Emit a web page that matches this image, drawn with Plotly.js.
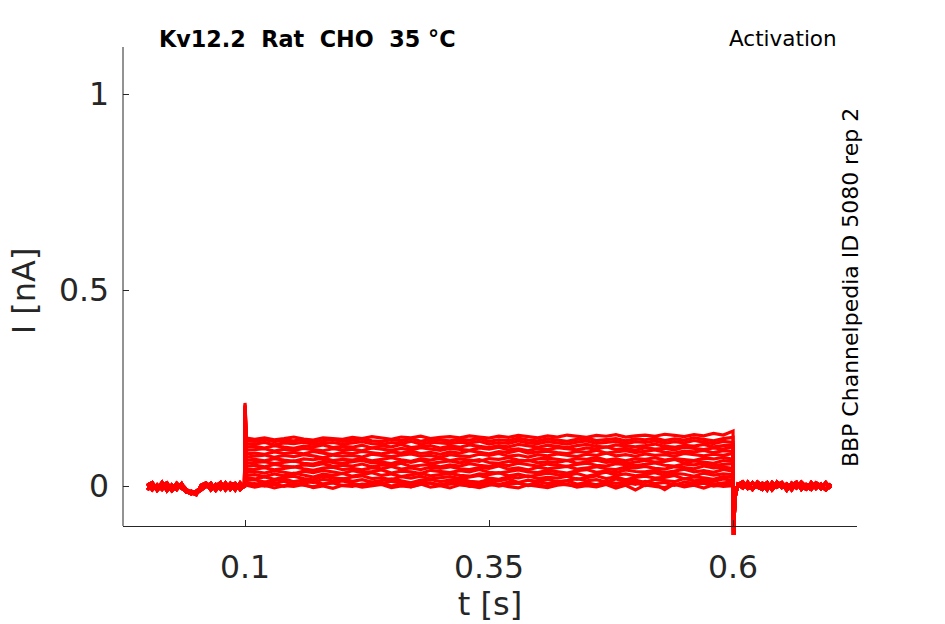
<!DOCTYPE html>
<html>
<head>
<meta charset="utf-8">
<script src="https://cdn.plot.ly/plotly-3.0.1.min.js"></script>
<style>
  html, body { margin: 0; padding: 0; background: #fff; }
  #myDiv { width: 945px; height: 624px; }
</style>
</head>
<body>
<div id="myDiv"></div>
<script>
  // time points [s]
  var tPre = [0, 0.005, 0.01, 0.015, 0.02, 0.025, 0.03, 0.035, 0.04, 0.045,
              0.05, 0.055, 0.06, 0.065, 0.07, 0.075, 0.08, 0.085, 0.09, 0.095, 0.0995];
  var tPulse = [0.1, 0.1015,
                0.11, 0.12, 0.13, 0.14, 0.15, 0.16, 0.17, 0.18, 0.19, 0.20,
                0.21, 0.22, 0.23, 0.24, 0.25, 0.26, 0.27, 0.28, 0.29, 0.30,
                0.31, 0.32, 0.33, 0.34, 0.35, 0.36, 0.37, 0.38, 0.39, 0.40,
                0.41, 0.42, 0.43, 0.44, 0.45, 0.46, 0.47, 0.48, 0.49, 0.50,
                0.51, 0.52, 0.53, 0.54, 0.55, 0.56, 0.57, 0.58, 0.59, 0.60];
  var tOff = [0.6005, 0.602, 0.605];
  var tPost = [0.61, 0.615, 0.62, 0.625, 0.63, 0.635, 0.64, 0.645, 0.65, 0.655,
               0.66, 0.665, 0.67, 0.675, 0.68, 0.685, 0.69, 0.695, 0.70];

  // currents [pA]
  var preA = [6, -10, 3, -9, 5, -11, 7, -6, -14, -20, -13, -5, 6, -10, 4, -8, 8, -9, 3, -6, 4];
  var preB = [-10, 5, -8, 9, -12, 3, -9, 6, -16, -13, -19, -10, -3, 7, -11, 3, -8, 7, -10, 8, -4];
  var preC = [3, 9, -11, 2, 8, -12, 0, 5, -9, -17, -22, 2, 8, -6, 0, 9, -10, 4, 7, -9, 2];
  var postA = [7, -6, 9, -3, -9, 6, -8, 10, -4, 5, -10, 7, -2, -8, 9, -6, 5, -9, 6];
  var postB = [-5, 10, -9, 4, 7, -10, 9, -3, 6, -11, 7, -5, 10, -2, -9, 6, -7, 9, -6];
  var postC = [11, -2, -8, 10, 0, 9, -10, 3, 9, -6, 2, 10, -9, 4, -3, 8, 0, -10, 3];
  var offVals = [-128, -30, 4];

  var sweep1 = [168, 2,
    -3, 2, -5, 1, -1, 4, -4, 0, -6, 2,
    3, -3, 1, 4, -4, 0, -2, 5, -3, 1,
    -5, 3, 0, -4, 2, 4, -2, -5, 3, 0,
    -4, 2, 5, -3, 1, -2, 4, -5, 2, -10,
    3, -1, -4, 4, -2, 2, -5, 3, -1, 1];
  var sweep2 = [172, 5,
    6, 0, 4, -1, 7, 2, -2, 5, 8, 1,
    -1, 5, 3, 7, 0, 6, -2, 4, 8, 2,
    4, 7, -1, 3, 6, 0, 5, 8, 1, 4,
    -2, 6, 3, 0, 7, 2, 5, -1, 4, 8,
    1, 5, -9, 6, 2, 4, 7, 0, 3, 6];
  var sweep3 = [176, 9,
    4, 10, 6, 12, 3, 8, 11, 5, 9, 13,
    7, 2, 10, 6, 12, 8, 4, 11, 7, 3,
    9, 13, 5, 8, 12, 4, 10, 7, 2, 11,
    6, 9, 13, 5, 8, 3, 11, 7, 10, 4,
    12, 6, 9, 2, 10, 7, 13, 5, 8, 11];
  var sweep4 = [179, 14,
    16, 10, 14, 18, 11, 15, 9, 17, 13, 19,
    12, 16, 10, 14, 18, 13, 8, 15, 17, 11,
    14, 19, 12, 10, 16, 13, 18, 9, 15, 12,
    17, 11, 14, 19, 13, 16, 10, 18, 12, 15,
    9, 17, 14, 11, 19, 13, 16, 12, 18, 14];
  var sweep5 = [182, 21,
    18, 23, 17, 22, 25, 19, 16, 24, 20, 18,
    23, 26, 19, 21, 16, 24, 20, 25, 18, 22,
    24, 19, 22, 27, 20, 17, 23, 21, 26, 19,
    22, 20, 25, 17, 21, 26, 19, 23, 16, 22,
    25, 20, 22, 27, 18, 23, 21, 17, 24, 22];
  var sweep6 = [185, 27,
    29, 24, 31, 26, 33, 28, 23, 30, 27, 32,
    25, 29, 34, 27, 31, 24, 28, 33, 26, 30,
    32, 27, 25, 31, 29, 34, 26, 30, 24, 28,
    33, 29, 27, 32, 25, 30, 35, 28, 31, 26,
    29, 34, 27, 32, 30, 25, 33, 28, 31, 29];
  var sweep7 = [187, 35,
    37, 33, 39, 35, 31, 38, 34, 40, 36, 32,
    39, 35, 37, 41, 33, 38, 36, 32, 40, 37,
    34, 39, 36, 42, 35, 33, 38, 41, 36, 34,
    40, 37, 33, 39, 42, 35, 38, 34, 41, 37,
    36, 40, 34, 38, 43, 36, 39, 35, 42, 38];
  var sweep8 = [189, 42,
    43, 47, 41, 45, 49, 44, 40, 46, 48, 42,
    45, 41, 47, 44, 50, 43, 46, 42, 48, 45,
    49, 44, 42, 47, 45, 51, 43, 46, 41, 48,
    44, 47, 50, 43, 46, 49, 44, 42, 48, 46,
    50, 45, 43, 49, 47, 44, 51, 46, 48, 45];
  var sweep9 = [191, 50,
    53, 49, 55, 51, 48, 54, 52, 57, 50, 53,
    51, 56, 49, 54, 52, 58, 50, 53, 55, 49,
    54, 51, 57, 53, 50, 55, 52, 58, 54, 51,
    56, 52, 50, 55, 58, 53, 51, 57, 54, 52,
    55, 59, 53, 51, 56, 54, 58, 52, 55, 57];
  var sweep10 = [193, 58,
    59, 62, 57, 61, 64, 58, 56, 63, 60, 58,
    62, 65, 59, 61, 57, 64, 60, 66, 58, 62,
    64, 59, 62, 67, 60, 58, 63, 61, 66, 59,
    62, 60, 65, 58, 61, 66, 60, 63, 57, 62,
    65, 61, 63, 68, 59, 64, 62, 58, 65, 63];
  var sweep11 = [195, 66,
    68, 64, 70, 66, 63, 69, 67, 71, 65, 68,
    66, 70, 64, 68, 72, 67, 63, 69, 66, 71,
    65, 69, 67, 63, 70, 68, 72, 66, 64, 69,
    71, 67, 65, 70, 68, 73, 66, 69, 64, 70,
    68, 72, 66, 70, 67, 65, 71, 69, 73, 68];
  var sweep12 = [197, 74,
    76, 79, 73, 78, 75, 80, 77, 72, 79, 76,
    78, 74, 81, 77, 75, 79, 82, 76, 78, 73,
    80, 77, 75, 81, 78, 83, 76, 79, 74, 80,
    77, 82, 79, 75, 81, 78, 84, 77, 80, 76,
    82, 78, 80, 76, 83, 79, 77, 81, 78, 83];
  var sweep13 = [199, 82,
    84, 81, 87, 83, 86, 82, 88, 84, 80, 86,
    83, 88, 85, 82, 87, 84, 89, 83, 86, 81,
    87, 84, 90, 86, 82, 88, 85, 91, 84, 87,
    89, 85, 83, 88, 86, 91, 84, 87, 90, 85,
    88, 92, 86, 84, 89, 87, 91, 85, 90, 88];
  var sweep14 = [201, 91,
    92, 95, 89, 94, 91, 96, 93, 90, 95, 92,
    94, 90, 97, 93, 91, 96, 92, 98, 94, 91,
    96, 93, 91, 97, 94, 99, 92, 95, 90, 96,
    93, 98, 95, 92, 97, 94, 100, 93, 96, 91,
    98, 94, 96, 92, 99, 95, 93, 97, 94, 100];
  var sweep15 = [203, 99,
    101, 97, 103, 99, 96, 102, 100, 105, 98, 101,
    99, 104, 97, 102, 100, 106, 98, 101, 103, 97,
    102, 99, 105, 101, 98, 103, 100, 106, 102, 99,
    104, 100, 98, 103, 106, 101, 99, 105, 102, 100,
    103, 107, 101, 99, 104, 102, 106, 100, 103, 105];
  var sweep16 = [205, 107,
    107, 111, 105, 110, 108, 112, 106, 109, 111, 107,
    110, 113, 108, 106, 111, 109, 114, 107, 112, 110,
    108, 112, 110, 114, 107, 111, 109, 115, 110, 108,
    113, 110, 107, 112, 115, 109, 111, 114, 108, 113,
    111, 115, 109, 113, 110, 116, 112, 108, 114, 111];
  var sweep17 = [208, 115,
    114, 118, 113, 117, 115, 119, 112, 116, 118, 114,
    117, 120, 115, 113, 118, 116, 121, 114, 119, 117,
    115, 119, 117, 121, 114, 118, 116, 122, 117, 115,
    120, 117, 114, 119, 122, 116, 118, 121, 115, 120,
    118, 122, 116, 120, 117, 123, 119, 115, 121, 124];
  var sweep18 = [212, 122,
    119, 123, 118, 121, 125, 120, 117, 123, 122, 119,
    124, 121, 126, 122, 119, 125, 123, 127, 121, 124,
    126, 123, 128, 125, 122, 127, 124, 129, 126, 123,
    128, 125, 130, 126, 124, 129, 127, 131, 125, 128,
    130, 127, 132, 129, 126, 131, 128, 134, 130, 140];

  var sweeps = [sweep1, sweep2, sweep3, sweep4, sweep5, sweep6, sweep7, sweep8, sweep9,
                sweep10, sweep11, sweep12, sweep13, sweep14, sweep15, sweep16, sweep17, sweep18];
  var pres = [preA, preB, preC];
  var posts = [postA, postB, postC];

  var tAll = tPre.concat(tPulse, tOff, tPost);
  var data = sweeps.map(function (s, i) {
    var pA = pres[i % 3].concat(s, offVals, posts[i % 3]);
    return {
      x: tAll,
      y: pA.map(function (v) { return v / 1000; }),
      mode: 'lines',
      line: { color: '#ff0000', width: 3.2 },
      hoverinfo: 'skip',
      showlegend: false
    };
  });

  var ink = '#262626';
  var font = 'DejaVu Sans, sans-serif';

  var layout = {
    width: 945,
    height: 624,
    // plot area runs a few px below the x axis so the tail transient shows under it
    margin: { l: 123, r: 88, t: 47, b: 89 },
    paper_bgcolor: '#ffffff',
    plot_bgcolor: '#ffffff',
    showlegend: false,
    font: { family: font, color: ink },
    xaxis: {
      range: [-0.025, 0.727],
      anchor: 'free',
      position: 0.01844,
      tickvals: [0.1, 0.35, 0.6],
      ticktext: ['0.1', '0.35', '0.6'],
      ticks: 'inside',
      ticklen: 6,
      tickcolor: ink,
      showline: true,
      linecolor: ink,
      linewidth: 1,
      showgrid: false,
      zeroline: false,
      ticklabelstandoff: 13,
      tickfont: { family: font, size: 31.5, color: ink },
      title: { text: 't [s]', font: { family: font, size: 32, color: ink }, standoff: 4 }
    },
    yaxis: {
      range: [-0.125, 1.12],
      tickvals: [0, 0.5, 1],
      ticktext: ['0', '0.5', '1'],
      ticks: 'inside',
      ticklen: 6,
      tickcolor: ink,
      showline: false,
      showgrid: false,
      zeroline: false,
      ticklabelstandoff: 13,
      tickfont: { family: font, size: 31.5, color: ink },
      title: { text: 'I [nA]', font: { family: font, size: 32, color: ink }, standoff: 13 }
    },
    shapes: [
      {
        type: 'line', xref: 'paper', yref: 'y',
        x0: 0, x1: 0, y0: -0.102, y1: 1.12,
        line: { color: ink, width: 1 }
      }
    ],
    annotations: [
      {
        text: '<b>Kv12.2\u00a0\u00a0Rat\u00a0\u00a0CHO\u00a0\u00a035 °C</b>',
        xref: 'paper', yref: 'paper', x: 0.0463, y: 1.0164,
        xanchor: 'left', yanchor: 'middle', showarrow: false,
        font: { family: font, size: 22.3, color: '#000000' }
      },
      {
        text: 'Activation',
        xref: 'paper', yref: 'paper', x: 0.9755, y: 1.0164,
        xanchor: 'right', yanchor: 'middle', showarrow: false,
        font: { family: font, size: 21.5, color: '#000000' }
      },
      {
        text: 'BBP Channelpedia ID 5080 rep 2',
        xref: 'paper', yref: 'paper', x: 0.9905, y: 0.506,
        xanchor: 'center', yanchor: 'middle', showarrow: false, textangle: -90,
        font: { family: font, size: 22, color: '#000000' }
      }
    ]
  };

  Plotly.newPlot('myDiv', data, layout, { displayModeBar: false, staticPlot: true });
</script>
</body>
</html>
